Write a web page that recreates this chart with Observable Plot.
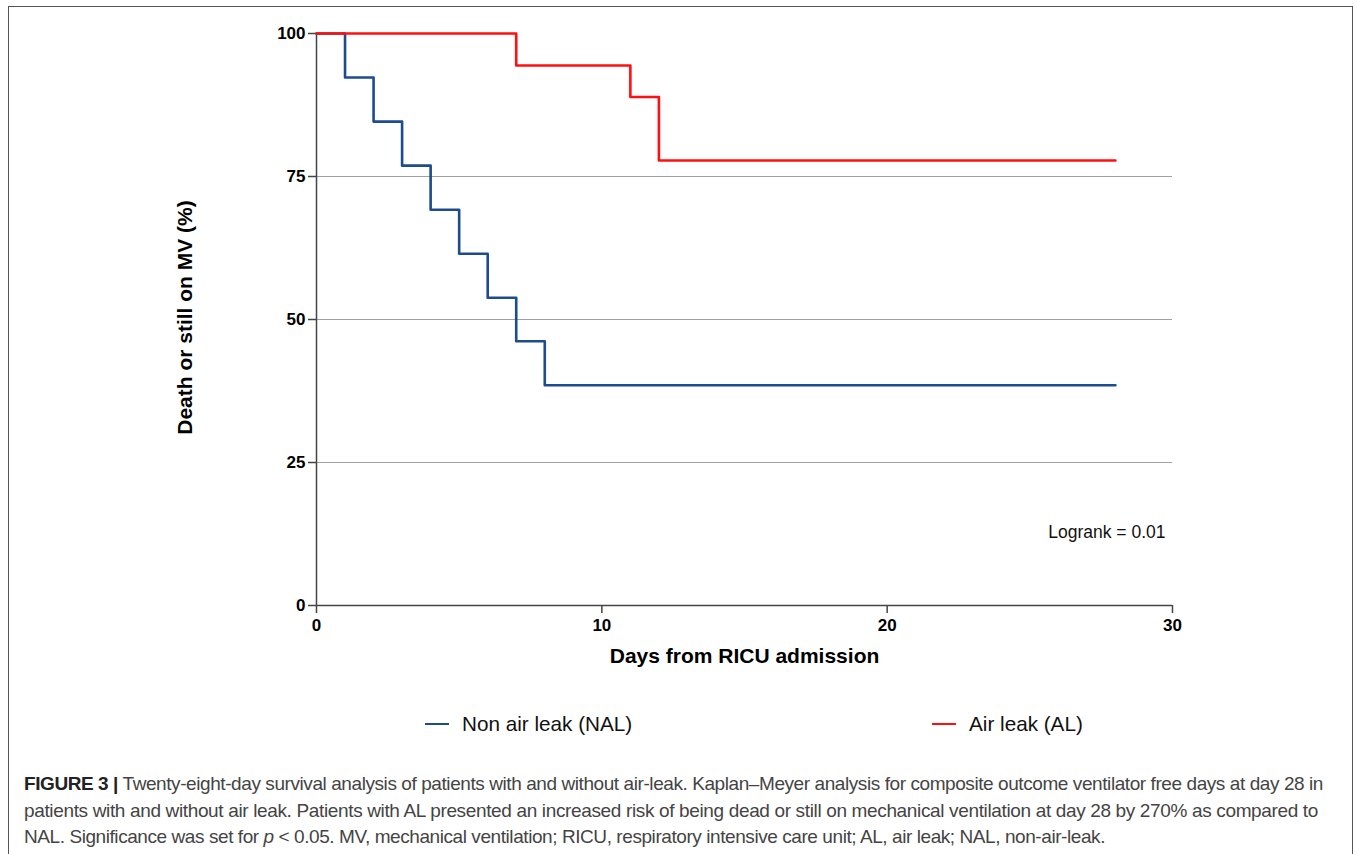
<!DOCTYPE html>
<html>
<head>
<meta charset="utf-8">
<script src="https://cdn.jsdelivr.net/npm/d3@7"></script>
<script src="https://cdn.jsdelivr.net/npm/@observablehq/plot@0.6"></script>
<style>
  html, body { margin: 0; padding: 0; background: #fff; width: 1357px; height: 854px; overflow: hidden; }
  body { font-family: "Liberation Sans", Arial, Helvetica, sans-serif; position: relative; }
  #frame { position: absolute; left: 8px; top: 6px; width: 1345px; height: 900px; border: 1.5px solid #555; box-sizing: border-box; }
  #chart { position: absolute; left: 0; top: 0; }
  .leg { position: absolute; top: 711px; height: 26px; display: flex; align-items: center; font-size: 20.7px; color: #111; white-space: nowrap; }
  .leg .sw { display: inline-block; width: 24px; height: 2.5px; margin-right: 13px; }
  #caption { position: absolute; left: 24px; top: 771px; font-family: "Liberation Sans Narrow", "Liberation Sans", Arial, sans-serif; font-size: 19px; line-height: 26.5px; color: #444; }
  #caption div { white-space: nowrap; }
</style>
</head>
<body>
<div id="frame"></div>
<div id="chart"></div>
<div id="legend"></div>
<div id="caption"></div>
<script>
// ---- data ----
const nalDays = [0, 1, 2, 3, 4, 5, 6, 7, 8, 28];
const nalValues = [100, 92.3, 84.6, 76.9, 69.2, 61.5, 53.8, 46.2, 38.5, 38.5];
const alDays = [0, 7, 11, 12, 28];
const alValues = [100, 94.4, 88.9, 77.8, 77.8];
const seriesNames = ["Non air leak (NAL)", "Air leak (AL)"];
const seriesColors = ["#1c4c8f", "#ff1010"];
const xTicks = [0, 10, 20, 30];
const yTicks = [0, 25, 50, 75, 100];
const gridTicks = [25, 50, 75];
const xLabel = "Days from RICU admission";
const yLabel = "Death or still on MV (%)";
const annotX = [27.7];
const annotY = [12.8];
const annotText = ["Logrank = 0.01"];
const captionLines = [
  ["FIGURE 3 |", " Twenty-eight-day survival analysis of patients with and without air-leak. Kaplan–Meyer analysis for composite outcome ventilator free days at day 28 in"],
  ["", "patients with and without air leak. Patients with AL presented an increased risk of being dead or still on mechanical ventilation at day 28 by 270% as compared to"],
  ["", "NAL. Significance was set for <i>p</i> &lt; 0.05. MV, mechanical ventilation; RICU, respiratory intensive care unit; AL, air leak; NAL, non-air-leak."]
];
const captionWidths = [1299, 1294, 1081];

// ---- tables ----
const nal = nalDays.map((d, i) => ({day: d, value: nalValues[i], series: seriesNames[0]}));
const al = alDays.map((d, i) => ({day: d, value: alValues[i], series: seriesNames[1]}));
const annot = annotText.map((t, i) => ({x: annotX[i], y: annotY[i], text: t}));

const chart = Plot.plot({
  width: 1357,
  height: 680,
  marginLeft: 316,
  marginRight: 185,
  marginTop: 33,
  marginBottom: 75,
  x: {domain: [0, 30]},
  y: {domain: [0, 100]},
  style: {fontFamily: "'Liberation Sans', Arial, sans-serif", fontSize: "17px", fontWeight: "bold", color: "#000", background: "transparent", overflow: "visible"},
  marks: [
    Plot.gridY(gridTicks, {stroke: "#a0a0a0", strokeOpacity: 1, strokeWidth: 1.2}),
    Plot.ruleX([0], {stroke: "#444", strokeWidth: 1.5}),
    Plot.ruleY([0], {stroke: "#444", strokeWidth: 1.5}),
    Plot.axisX({ticks: xTicks, tickSize: 8, tickPadding: 5, stroke: "#444", strokeWidth: 1.5, label: null, tickFormat: d => String(d)}),
    Plot.axisY({ticks: yTicks, tickSize: 8, tickPadding: 3, stroke: "#444", strokeWidth: 1.5, label: null, tickFormat: d => String(d)}),
    Plot.line(nal, {x: "day", y: "value", curve: "step-after", stroke: seriesColors[0], strokeWidth: 2.6}),
    Plot.line(al, {x: "day", y: "value", curve: "step-after", stroke: seriesColors[1], strokeWidth: 2.6}),
    Plot.text(annot, {x: "x", y: "y", text: "text", fontSize: 17.5, fontWeight: "normal", fill: "#111"}),
    Plot.text([xLabel], {frameAnchor: "bottom", dy: 57, fontSize: 21, fontWeight: "bold", fill: "#000"}),
    Plot.text([yLabel], {frameAnchor: "left", textAnchor: "middle", dx: -131, dy: -2, rotate: -90, fontSize: 21, fontWeight: "bold", fill: "#000"})
  ]
});
document.getElementById("chart").appendChild(chart);

// legend
const legend = document.getElementById("legend");
const legLefts = [425, 932];
seriesNames.forEach((name, i) => {
  const d = document.createElement("div");
  d.className = "leg";
  d.style.left = legLefts[i] + "px";
  d.innerHTML = `<span class="sw" style="background:${seriesColors[i]}"></span><span>${name}</span>`;
  legend.appendChild(d);
});

// caption
const cap = document.getElementById("caption");
captionLines.forEach((parts, i) => {
  const d = document.createElement("div");
  const span = document.createElement("span");
  span.style.whiteSpace = "nowrap";
  span.innerHTML = (parts[0] ? `<b style="color:#222">${parts[0]}</b>` : "") + parts[1];
  d.appendChild(span);
  cap.appendChild(d);
  const w = span.getBoundingClientRect().width;
  const chars = span.textContent.length;
  const ls = (captionWidths[i] - w) / chars;
  span.style.letterSpacing = ls + "px";
});
</script>
</body>
</html>
